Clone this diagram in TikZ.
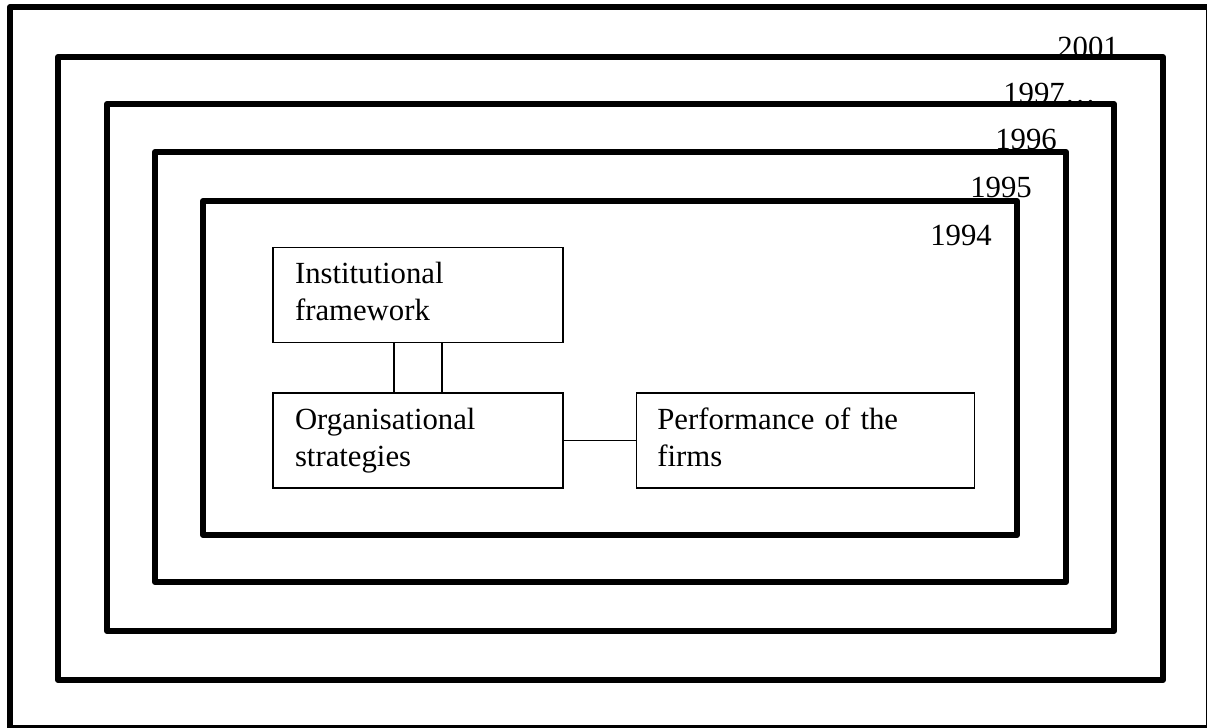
\documentclass[tikz,border=0pt]{standalone}
\usepackage{fontspec}
\setmainfont{Liberation Serif}
\usetikzlibrary{positioning}

\begin{document}
\begin{tikzpicture}[x=0.02cm,y=-0.02cm,
	frame/.style={line width=3.4pt,line join=round},
	year/.style={anchor=base west,inner sep=0pt,font=\fontsize{17.5}{21}\selectfont},
	box/.style={draw,line width=0.8pt,minimum height=1.9cm,align=left,font=\fontsize{17.5}{21}\selectfont},
	link/.style={line width=0.8pt}]
\useasboundingbox (0,0) rectangle (1207,727);
% periods, from outside in
\draw[frame] (10,7) rectangle (1209,728);
\foreach \l/\t/\r/\b in {58/57/1163/680,107/104/1114/631,155/152/1066/582,203/201/1017/535}
	{
	\draw[frame] (\l,\t) rectangle (\r,\b);
	}
\node[year] (y2001) at (1057,57) {2001};
\node[year] (y1997) at (1003,103) {1997…};
\node[year] (y1996) at (995,149) {1996};
\node[year] (y1995) at (970,197) {1995};
\node[year] (y1994) at (930,245) {1994};
% the boxes
\node[box,text width=4.92cm,inner xsep=0.44cm] (inst) at (418,295) {\strut Institutional\\\strut framework};
\node[box,text width=4.92cm,inner xsep=0.44cm,below=0.98cm of inst] (org) {\strut Organisational\\\strut strategies};
\node[box,text width=5.92cm,inner xsep=0.42cm,right=1.44cm of org] (perf) {\strut Performance of the\\\strut firms};
\draw[link] ([xshift=-0.48cm]inst.south) -- ([xshift=-0.48cm]org.north);
\draw[link] ([xshift=0.48cm]inst.south) -- ([xshift=0.48cm]org.north);
\draw[link] (org) -- (perf);
\end{tikzpicture}
\end{document}
